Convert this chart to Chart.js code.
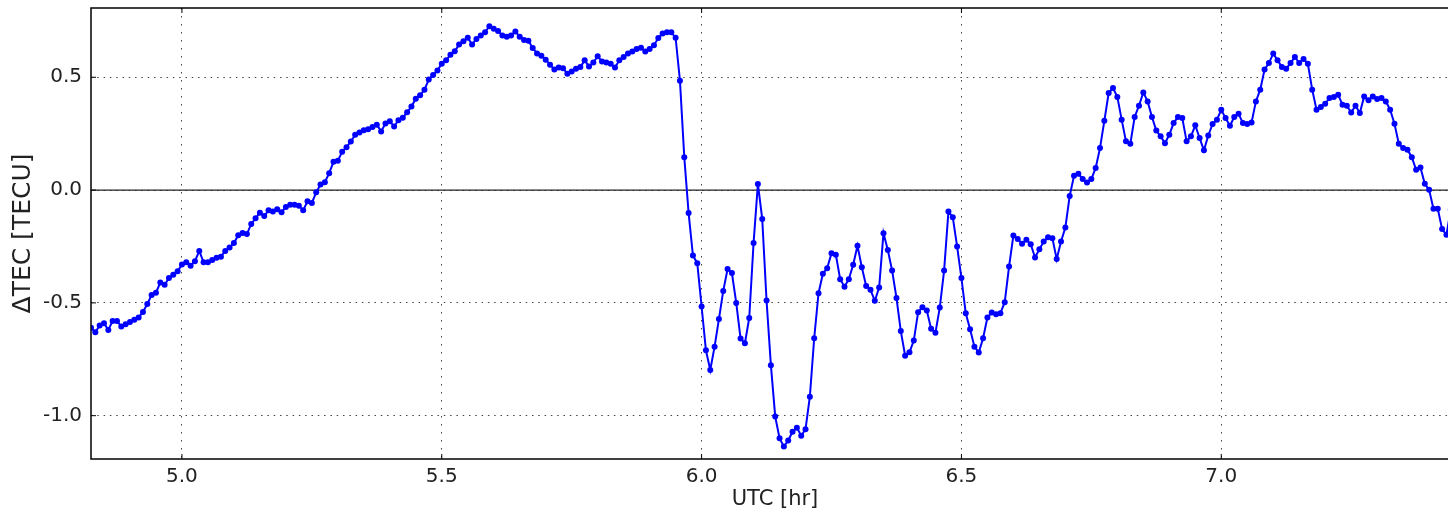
<!DOCTYPE html>
<html>
<head>
<meta charset="utf-8">
<script src="https://cdn.jsdelivr.net/npm/chart.js@4.4.1/dist/chart.umd.min.js"></script>
<style>
  html, body { margin: 0; padding: 0; overflow: hidden; background: #fff; }
  #chart { display: block; }
</style>
</head>
<body>
<canvas id="chart" width="1470" height="513"></canvas>
<script>
// sampling: first sample time and cadence (UTC hours)
const startHr = 4.825;
const stepHr = 30 / 3600;

// dTEC values, one per 30 s sample
const dTec = [
  -0.61, -0.63, -0.60, -0.59, -0.62, -0.58, -0.58, -0.605, -0.595, -0.585,
  -0.575, -0.565, -0.54, -0.505, -0.465, -0.455, -0.41, -0.42, -0.39, -0.375,
  -0.36, -0.33, -0.32, -0.335, -0.315, -0.27, -0.32, -0.32, -0.31, -0.30,
  -0.295, -0.27, -0.255, -0.235, -0.20, -0.19, -0.195, -0.15, -0.125, -0.10,
  -0.115, -0.09, -0.095, -0.085, -0.098, -0.075, -0.065, -0.065, -0.07, -0.09,
  -0.05, -0.057, -0.01, 0.025, 0.035, 0.075, 0.125, 0.13, 0.17, 0.19,
  0.215, 0.245, 0.255, 0.265, 0.27, 0.28, 0.29, 0.26, 0.295, 0.305,
  0.282, 0.31, 0.32, 0.345, 0.37, 0.405, 0.42, 0.445, 0.49, 0.51,
  0.53, 0.56, 0.575, 0.60, 0.615, 0.645, 0.66, 0.675, 0.645, 0.67,
  0.685, 0.70, 0.726, 0.715, 0.705, 0.685, 0.68, 0.685, 0.703, 0.68,
  0.665, 0.662, 0.63, 0.605, 0.595, 0.578, 0.556, 0.534, 0.543, 0.54,
  0.516, 0.525, 0.538, 0.545, 0.575, 0.548, 0.565, 0.593, 0.57, 0.565,
  0.56, 0.543, 0.575, 0.59, 0.605, 0.614, 0.625, 0.631, 0.614, 0.625,
  0.642, 0.674, 0.694, 0.70, 0.70, 0.675, 0.485, 0.146, -0.102, -0.29,
  -0.324, -0.516, -0.71, -0.797, -0.694, -0.572, -0.447, -0.35, -0.368, -0.50,
  -0.658, -0.679, -0.567, -0.235, 0.027, -0.128, -0.49, -0.776, -1.004, -1.10,
  -1.137, -1.11, -1.071, -1.053, -1.089, -1.06, -0.916, -0.657, -0.457, -0.371,
  -0.346, -0.28, -0.287, -0.395, -0.428, -0.395, -0.331, -0.247, -0.342, -0.425,
  -0.442, -0.491, -0.432, -0.191, -0.266, -0.357, -0.478, -0.625, -0.734, -0.719,
  -0.667, -0.541, -0.519, -0.534, -0.615, -0.632, -0.521, -0.357, -0.095, -0.12,
  -0.25, -0.39, -0.546, -0.617, -0.694, -0.72, -0.657, -0.565, -0.543, -0.55,
  -0.546, -0.497, -0.339, -0.201, -0.217, -0.238, -0.22, -0.24, -0.299, -0.262,
  -0.228, -0.209, -0.213, -0.306, -0.228, -0.166, -0.026, 0.063, 0.072, 0.049,
  0.034, 0.049, 0.098, 0.186, 0.307, 0.43, 0.452, 0.413, 0.312, 0.216,
  0.205, 0.324, 0.374, 0.433, 0.393, 0.324, 0.264, 0.238, 0.208, 0.245,
  0.297, 0.324, 0.319, 0.216, 0.238, 0.287, 0.231, 0.176, 0.242, 0.293,
  0.312, 0.356, 0.319, 0.285, 0.324, 0.338, 0.297, 0.293, 0.30, 0.393,
  0.445, 0.534, 0.563, 0.605, 0.575, 0.546, 0.538, 0.563, 0.59, 0.563,
  0.581, 0.56, 0.445, 0.356, 0.368, 0.383, 0.408, 0.413, 0.423, 0.378,
  0.374, 0.344, 0.374, 0.342, 0.415, 0.398, 0.415, 0.404, 0.408, 0.393,
  0.356, 0.294, 0.205, 0.186, 0.179, 0.146, 0.09, 0.10, 0.028, 0.001,
  -0.083, -0.083, -0.173, -0.198, -0.087
];

const xTicks = [5.0, 5.5, 6.0, 6.5, 7.0];
const yTicks = [-1.0, -0.5, 0.0, 0.5];
const xRange = [4.825, 7.4575];
const yRange = [-1.192, 0.807];
const xTitle = 'UTC [hr]';
const yTitle = 'ΔTEC [TECU]';

const points = dTec.map((v, i) => ({ x: startHr + i * stepHr, y: v }));

// zero line under the data, black frame and inward ticks on top
const framePlugin = {
  id: 'frame',
  beforeDatasetsDraw(chart) {
    const { ctx, chartArea: a, scales } = chart;
    const y0 = scales.y.getPixelForValue(0);
    ctx.save();
    ctx.strokeStyle = '#222';
    ctx.lineWidth = 1.2;
    ctx.beginPath();
    ctx.moveTo(a.left, y0);
    ctx.lineTo(a.right, y0);
    ctx.stroke();
    ctx.restore();
  },
  afterDatasetsDraw(chart) {
    const { ctx, chartArea: a, scales } = chart;
    ctx.save();
    ctx.strokeStyle = '#000';
    ctx.lineWidth = 1.5;
    ctx.strokeRect(a.left, a.top, a.right - a.left, a.bottom - a.top);
    ctx.lineWidth = 1;
    ctx.beginPath();
    xTicks.forEach(v => {
      const px = scales.x.getPixelForValue(v);
      ctx.moveTo(px, a.bottom); ctx.lineTo(px, a.bottom - 5);
      ctx.moveTo(px, a.top); ctx.lineTo(px, a.top + 5);
    });
    yTicks.forEach(v => {
      const py = scales.y.getPixelForValue(v);
      ctx.moveTo(a.left, py); ctx.lineTo(a.left + 5, py);
    });
    ctx.stroke();
    ctx.restore();
  }
};

const font = 'DejaVu Sans';

new Chart(document.getElementById('chart'), {
  type: 'line',
  data: {
    datasets: [{
      data: points,
      borderColor: '#0000ff',
      backgroundColor: '#0000ff',
      borderWidth: 2,
      pointRadius: 3,
      pointBorderWidth: 0,
      pointBackgroundColor: '#0000ff',
      tension: 0
    }]
  },
  options: {
    responsive: false,
    animation: false,
    events: [],
    layout: { autoPadding: false, padding: { left: 0, top: 8, right: 11, bottom: 0 } },
    plugins: { legend: { display: false }, tooltip: { enabled: false } },
    scales: {
      x: {
        type: 'linear',
        min: xRange[0],
        max: xRange[1],
        afterBuildTicks: s => { s.ticks = xTicks.map(v => ({ value: v })); },
        afterFit: s => { s.height = 54; s.paddingLeft = 0; s.paddingRight = 0; },
        ticks: {
          padding: 6,
          color: '#222',
          font: { family: font, size: 20 },
          callback: v => v.toFixed(1)
        },
        grid: { color: '#444', lineWidth: 1, drawTicks: false },
        border: { display: false, dash: [1.5, 6.5] },
        title: {
          display: true,
          text: xTitle,
          color: '#222',
          font: { family: font, size: 21, lineHeight: 1 },
          padding: { top: 0, bottom: 3 }
        }
      },
      y: {
        min: yRange[0],
        max: yRange[1],
        afterBuildTicks: s => { s.ticks = yTicks.map(v => ({ value: v })); },
        afterFit: s => { s.width = 91; s.paddingTop = 0; s.paddingBottom = 0; },
        ticks: {
          padding: 9,
          color: '#222',
          font: { family: font, size: 20 },
          callback: v => v.toFixed(1)
        },
        grid: { color: '#444', lineWidth: 1, drawTicks: false },
        border: { display: false, dash: [1.5, 4.8] },
        title: {
          display: true,
          text: yTitle,
          color: '#222',
          font: { family: font, size: 25, lineHeight: 1 },
          padding: { top: 11, bottom: 0 }
        }
      }
    }
  },
  plugins: [framePlugin]
});
</script>
</body>
</html>
